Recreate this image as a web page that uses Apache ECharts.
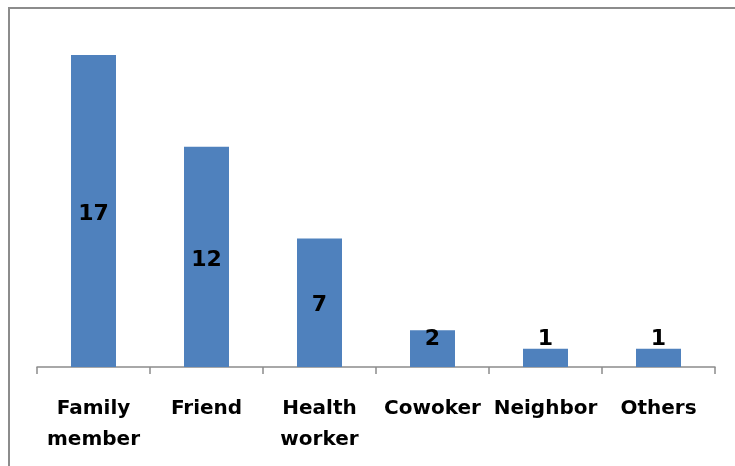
<!DOCTYPE html>
<html>
<head>
<meta charset="utf-8">
<script src="https://cdn.jsdelivr.net/npm/echarts@6/dist/echarts.min.js"></script>
<style>
  html, body { margin: 0; padding: 0; background: #fff; }
  #main { width: 735px; height: 466px; }
</style>
</head>
<body>
<div id="main"></div>
<script>
// data
var categories = ['Family\nmember', 'Friend', 'Health\nworker', 'Cowoker', 'Neighbor', 'Others'];
var counts = [17, 12, 7, 2, 1, 1];

var myChart = echarts.init(document.getElementById('main'));

// small bars get their label nudged up like the original
var barData = counts.map(function (v) {
    if (v >= 5) return v;
    if (v >= 2) return {value: v, label: {position: 'insideTop', distance: -2, offset: [0, 0]}};
    return {value: v, label: {position: 'top', distance: -2, offset: [0, 0]}};
});

var option = {
    animation: false,
    textStyle: {fontFamily: 'DejaVu Sans'},
    graphic: [{
        type: 'rect',
        shape: {x: 9, y: 8, width: 800, height: 500},
        style: {fill: 'none', stroke: '#8c8c8c', lineWidth: 2}
    }],
    grid: {left: 37, right: 20, top: 55, bottom: 99},
    xAxis: {
        type: 'category',
        data: categories,
        axisLine: {lineStyle: {color: '#8c8c8c', width: 1.5}},
        axisTick: {show: true, length: 7, lineStyle: {color: '#8c8c8c', width: 1.5}},
        axisLabel: {
            color: '#000',
            fontFamily: 'DejaVu Sans',
            fontSize: 20,
            fontWeight: 'bold',
            lineHeight: 31,
            margin: 26,
            interval: 0
        }
    },
    yAxis: {
        type: 'value',
        min: 0,
        max: 17,
        show: false
    },
    series: [{
        type: 'bar',
        data: barData,
        barWidth: 45,
        itemStyle: {color: '#4f81bd'},
        label: {
            show: true,
            position: 'inside',
            offset: [0, 3],
            color: '#000',
            fontFamily: 'DejaVu Sans',
            fontSize: 22,
            fontWeight: 'bold'
        }
    }]
};

myChart.setOption(option);
</script>
</body>
</html>
